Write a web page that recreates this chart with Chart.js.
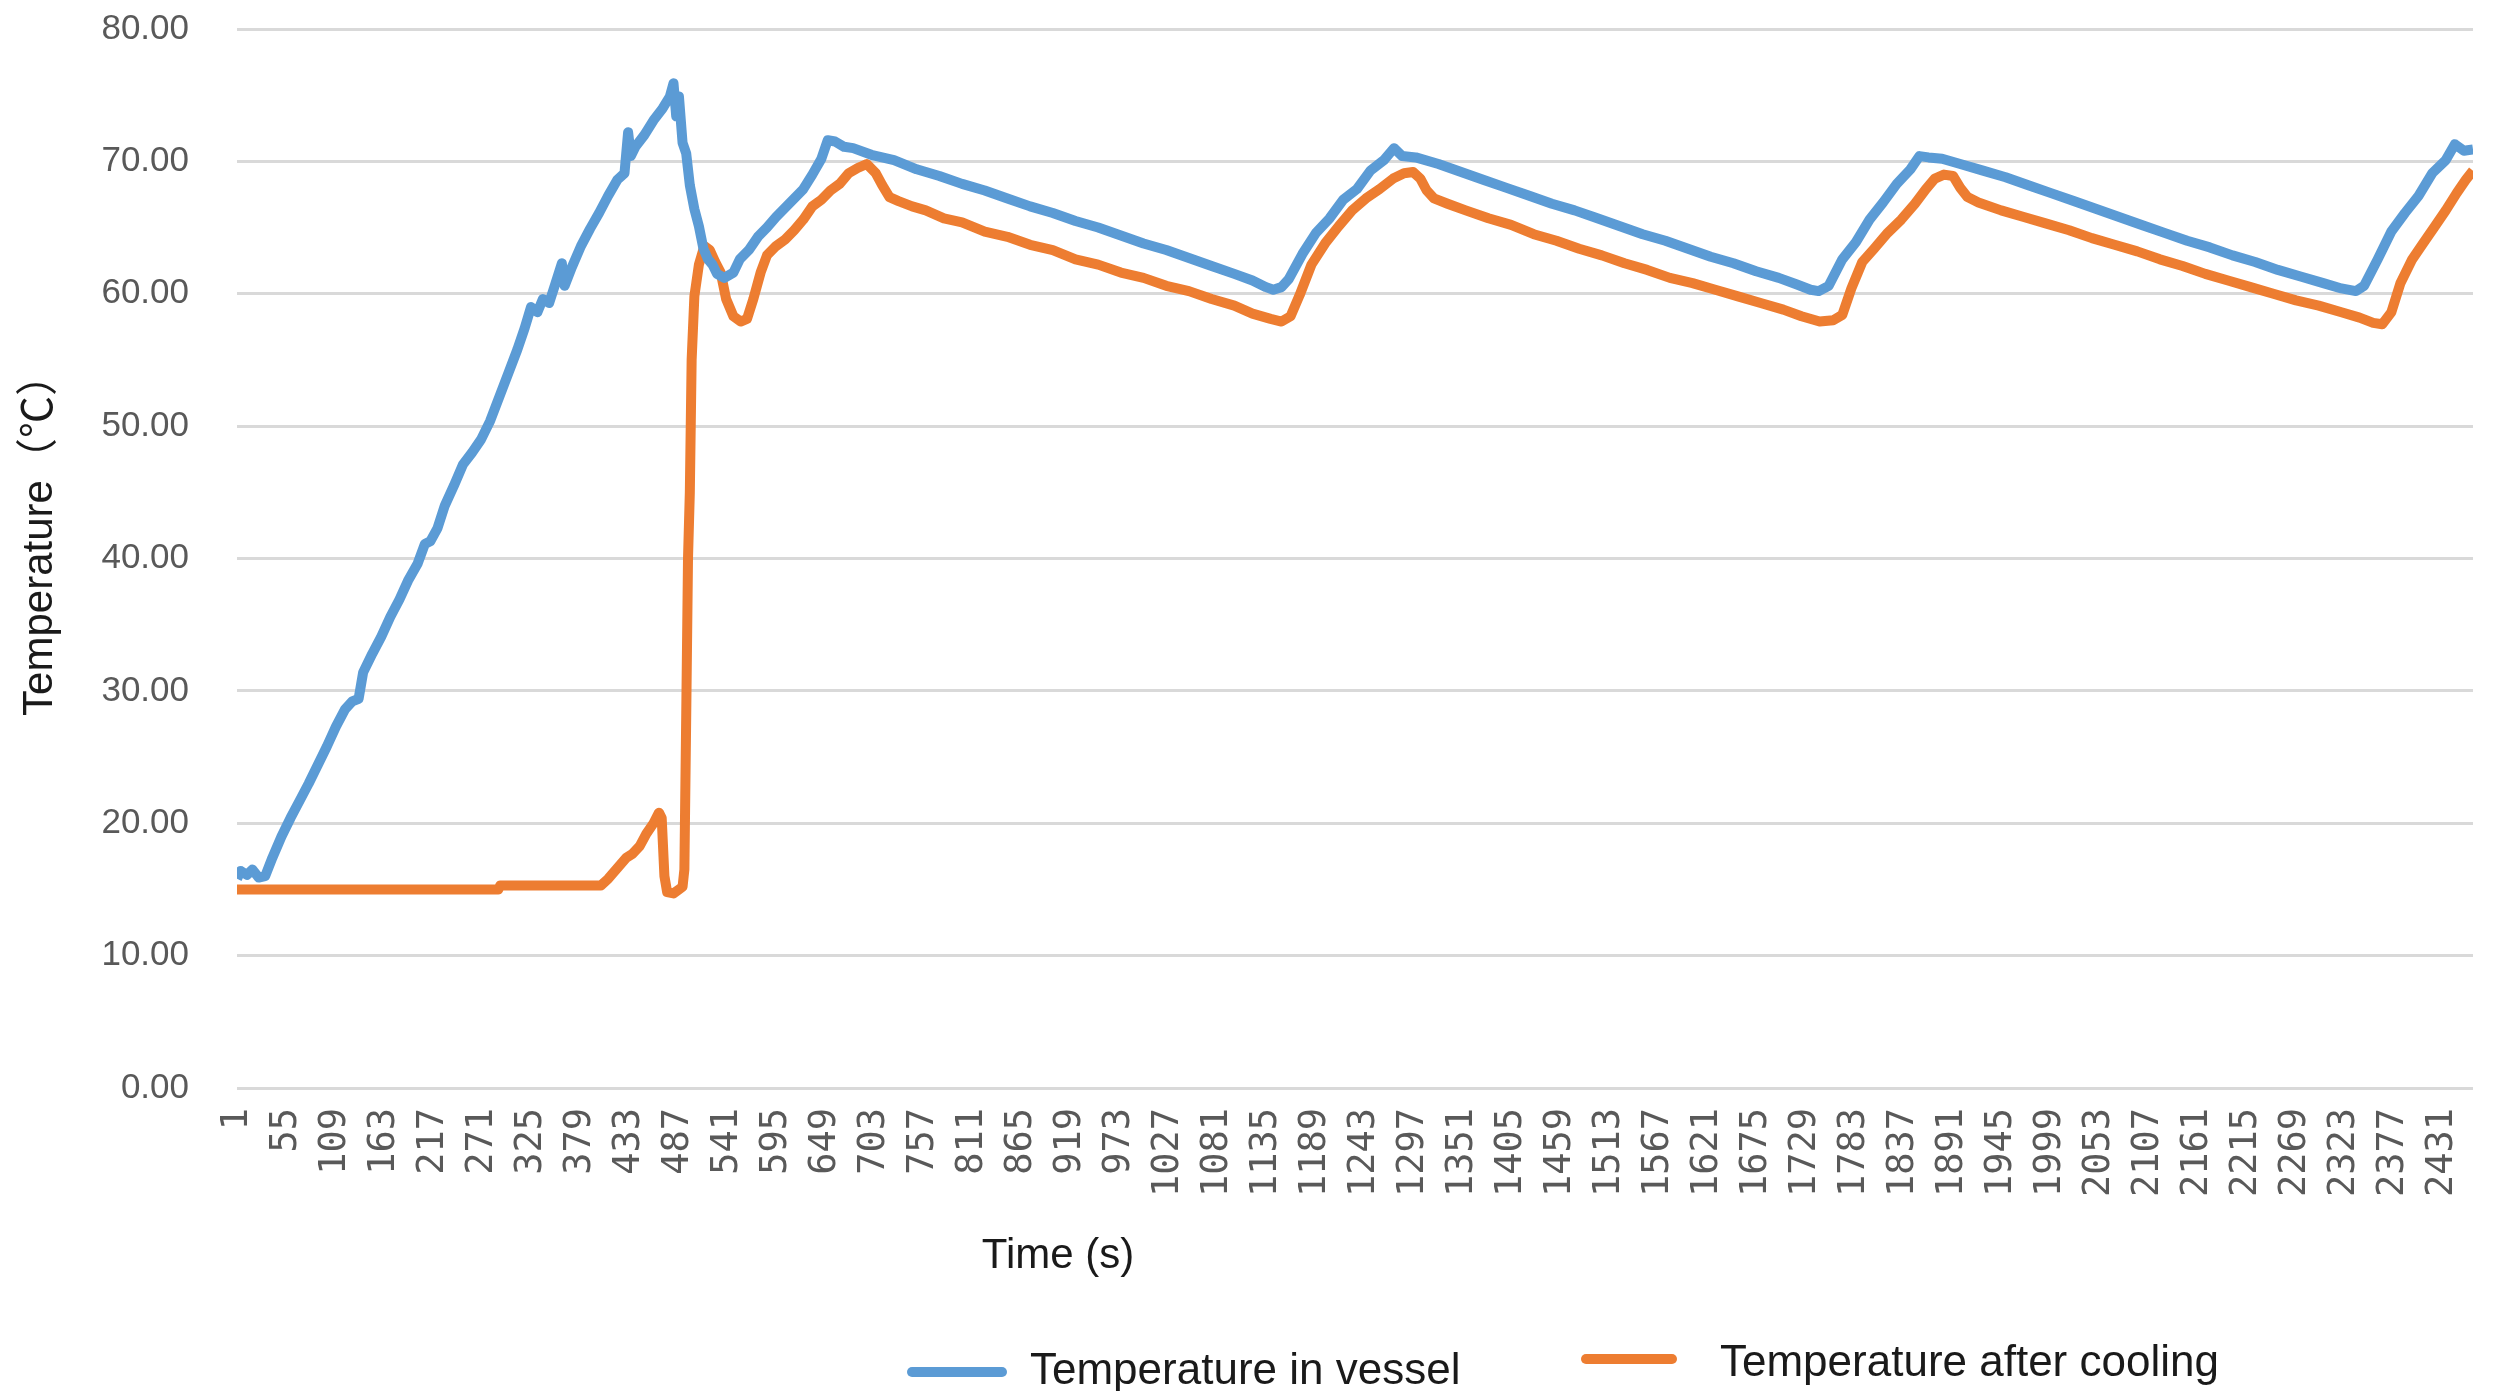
<!DOCTYPE html>
<html>
<head>
<meta charset="utf-8">
<script src="https://cdn.jsdelivr.net/npm/chart.js@4.4.1/dist/chart.umd.min.js"></script>
<style>
  html, body { margin: 0; padding: 0; background: #fff; }
</style>
</head>
<body>
<canvas id="chart" width="2501" height="1391"></canvas>
<script>
// time index (s) and temperature (°C)
const vesselTime = [
  1, 5, 12, 18, 25, 32, 40, 50, 60, 70,
  80, 90, 100, 110, 120, 128, 135, 140, 150, 160,
  170, 180, 190, 200, 208, 214, 222, 230, 240, 250,
  260, 270, 280, 290, 300, 310, 318, 325, 332, 338,
  345, 352, 359, 362, 370, 380, 390, 400, 410, 420,
  428, 432, 435, 440, 450, 460, 470, 478, 482, 485,
  488, 492, 496, 500, 505, 510, 515, 520, 525, 530,
  538, 548, 555, 565, 575, 585, 595, 605, 615, 625,
  635, 645, 652, 660, 670, 680, 700, 725, 750, 775,
  800, 825, 850, 875, 900, 925, 950, 975, 1000, 1025,
  1050, 1075, 1100, 1120, 1135, 1143, 1152, 1160, 1175, 1190,
  1205, 1220, 1235, 1250, 1265, 1276, 1285, 1300, 1325, 1350,
  1375, 1400, 1425, 1450, 1475, 1500, 1525, 1550, 1575, 1600,
  1625, 1650, 1675, 1700, 1720, 1735, 1744, 1755, 1770, 1785,
  1800, 1815, 1830, 1845, 1855, 1865, 1880, 1900, 1925, 1950,
  1975, 2000, 2025, 2050, 2075, 2100, 2125, 2150, 2175, 2200,
  2225, 2250, 2275, 2300, 2320, 2336, 2345, 2360, 2375, 2390,
  2405, 2420, 2435, 2445, 2455, 2465
];
const vesselTemp = [
  15.8, 16.4, 16.1, 16.5, 15.9, 16.0, 17.4, 19.0, 20.4, 21.7,
  23.0, 24.4, 25.8, 27.3, 28.6, 29.2, 29.4, 31.4, 32.8, 34.1,
  35.6, 36.9, 38.4, 39.6, 41.1, 41.3, 42.3, 44.0, 45.5, 47.1,
  48.0, 49.0, 50.4, 52.2, 54.0, 55.8, 57.4, 59.0, 58.6, 59.6,
  59.3, 60.8, 62.3, 60.6, 62.0, 63.6, 64.9, 66.1, 67.4, 68.6,
  69.1, 72.2, 70.4, 71.1, 72.0, 73.1, 74.0, 74.9, 75.9, 73.4,
  74.9, 71.4, 70.6, 68.2, 66.4, 65.1, 63.4, 62.6, 62.2, 61.5,
  61.2, 61.6, 62.6, 63.3, 64.3, 65.0, 65.8, 66.5, 67.2, 67.9,
  69.0, 70.2, 71.6, 71.5, 71.1, 71.0, 70.5, 70.1, 69.4, 68.9,
  68.3, 67.8, 67.2, 66.6, 66.1, 65.5, 65.0, 64.4, 63.8, 63.3,
  62.7, 62.1, 61.5, 61.0, 60.5, 60.3, 60.5, 61.1, 63.0, 64.6,
  65.7, 67.1, 67.9, 69.3, 70.1, 71.0, 70.4, 70.3, 69.8, 69.2,
  68.6, 68.0, 67.4, 66.8, 66.3, 65.7, 65.1, 64.5, 64.0, 63.4,
  62.8, 62.3, 61.7, 61.2, 60.7, 60.3, 60.2, 60.6, 62.6, 63.9,
  65.6, 66.9, 68.3, 69.4, 70.4, 70.3, 70.2, 69.8, 69.3, 68.8,
  68.2, 67.6, 67.0, 66.4, 65.8, 65.2, 64.6, 64.0, 63.5, 62.9,
  62.4, 61.8, 61.3, 60.8, 60.4, 60.2, 60.6, 62.6, 64.7, 66.1,
  67.4, 69.1, 70.1, 71.3, 70.8, 70.9
];

const coolTime = [
  1, 100, 200, 289, 291, 350, 402, 410, 420, 430,
  437, 445, 452, 460, 466, 469, 472, 475, 482, 488,
  492, 494, 496, 498, 500, 502, 505, 510, 516, 522,
  528, 534, 540, 548, 556, 563, 570, 578, 585, 595,
  605, 615, 625, 635, 645, 655, 665, 675, 685, 695,
  705, 712, 720, 730, 745, 760, 780, 800, 825, 850,
  875, 900, 925, 950, 975, 1000, 1025, 1050, 1075, 1100,
  1120, 1140, 1152, 1162, 1172, 1185, 1200, 1215, 1230, 1245,
  1260, 1275, 1287, 1297, 1305, 1312, 1320, 1335, 1355, 1380,
  1405, 1430, 1455, 1480, 1505, 1530, 1555, 1580, 1605, 1630,
  1655, 1680, 1705, 1725, 1745, 1760, 1770, 1780, 1792, 1805,
  1820, 1835, 1850, 1862, 1872, 1882, 1892, 1900, 1908, 1920,
  1945, 1970, 1995, 2020, 2045, 2070, 2095, 2120, 2145, 2170,
  2195, 2220, 2245, 2270, 2295, 2320, 2340, 2355, 2365, 2375,
  2385, 2398, 2410, 2422, 2435, 2447, 2457, 2465
];
const coolTemp = [
  15.0, 15.0, 15.0, 15.0, 15.3, 15.3, 15.3, 15.8, 16.6, 17.4,
  17.7, 18.3, 19.2, 20.0, 20.8, 20.4, 16.0, 14.8, 14.7, 15.0,
  15.2, 16.5, 28.0, 40.0, 45.0, 55.0, 59.8, 62.2, 63.6, 63.3,
  62.4, 61.6, 59.6, 58.3, 57.9, 58.1, 59.6, 61.6, 62.9, 63.6,
  64.1, 64.8, 65.6, 66.6, 67.1, 67.8, 68.3, 69.1, 69.5, 69.8,
  69.1, 68.2, 67.3, 67.0, 66.6, 66.3, 65.7, 65.4, 64.7, 64.3,
  63.7, 63.3, 62.6, 62.2, 61.6, 61.2, 60.6, 60.2, 59.6, 59.1,
  58.5, 58.1, 57.9, 58.3, 59.9, 62.2, 63.8, 65.1, 66.3, 67.2,
  67.9, 68.7, 69.1, 69.2, 68.7, 67.8, 67.2, 66.8, 66.3, 65.7,
  65.2, 64.5, 64.0, 63.4, 62.9, 62.3, 61.8, 61.2, 60.8, 60.3,
  59.8, 59.3, 58.8, 58.3, 57.9, 58.0, 58.4, 60.4, 62.4, 63.4,
  64.6, 65.6, 66.8, 67.9, 68.7, 69.0, 68.9, 68.0, 67.3, 66.9,
  66.3, 65.8, 65.3, 64.8, 64.2, 63.7, 63.2, 62.6, 62.1, 61.5,
  61.0, 60.5, 60.0, 59.5, 59.1, 58.6, 58.2, 57.8, 57.7, 58.6,
  60.8, 62.6, 63.8, 65.0, 66.3, 67.6, 68.6, 69.3
];

// category labels shown on the time axis
const timeTicks = [
  1, 55, 109, 163, 217, 271, 325, 379, 433, 487,
  541, 595, 649, 703, 757, 811, 865, 919, 973, 1027,
  1081, 1135, 1189, 1243, 1297, 1351, 1405, 1459, 1513, 1567,
  1621, 1675, 1729, 1783, 1837, 1891, 1945, 1999, 2053, 2107,
  2161, 2215, 2269, 2323, 2377, 2431
];
const tempTicks = [0, 10, 20, 30, 40, 50, 60, 70, 80];

const seriesNames = ['Temperature in vessel', 'Temperature after cooling'];
const BLUE = '#5b9bd5';
const ORANGE = '#ed7d31';

const pts = (xs, ys) => xs.map((x, i) => ({ x: x, y: ys[i] }));

// axis titles + legend, placed like the original
const overlay = {
  id: 'overlay',
  afterDraw(chart) {
    const ctx = chart.ctx;
    ctx.save();
    ctx.fillStyle = '#1a1a1a';

    ctx.font = '42px "Liberation Sans", Arial, sans-serif';
    ctx.textAlign = 'center';
    ctx.textBaseline = 'alphabetic';
    ctx.fillText('Time (s)', 1058, 1268);

    ctx.save();
    ctx.translate(40, 535);
    ctx.rotate(-Math.PI / 2);
    ctx.font = '42px "Liberation Sans", "Noto Sans CJK SC", sans-serif';
    ctx.textBaseline = 'middle';
    ctx.fillText('Temperature（℃）', 0, 0);
    ctx.restore();

    const items = [
      { x0: 912, x1: 1002, ly: 1372, tx: 1030, ty: 1384 },
      { x0: 1586, x1: 1672, ly: 1359, tx: 1720, ty: 1376 }
    ];
    ctx.font = '44px "Liberation Sans", Arial, sans-serif';
    ctx.textAlign = 'left';
    chart.data.datasets.forEach((ds, i) => {
      const it = items[i];
      ctx.strokeStyle = ds.borderColor;
      ctx.lineWidth = 10;
      ctx.lineCap = 'round';
      ctx.beginPath();
      ctx.moveTo(it.x0, it.ly);
      ctx.lineTo(it.x1, it.ly);
      ctx.stroke();
      ctx.fillStyle = '#1a1a1a';
      ctx.fillText(ds.label, it.tx, it.ty);
    });
    ctx.restore();
  }
};

new Chart(document.getElementById('chart').getContext('2d'), {
  type: 'line',
  data: {
    datasets: [
      {
        label: seriesNames[0],
        data: pts(vesselTime, vesselTemp),
        borderColor: BLUE,
        backgroundColor: BLUE,
        borderWidth: 10,
        pointRadius: 0,
        tension: 0,
        borderJoinStyle: 'round'
      },
      {
        label: seriesNames[1],
        data: pts(coolTime, coolTemp),
        borderColor: ORANGE,
        backgroundColor: ORANGE,
        borderWidth: 10,
        pointRadius: 0,
        tension: 0,
        borderJoinStyle: 'round'
      }
    ]
  },
  options: {
    responsive: false,
    animation: false,
    devicePixelRatio: 1,
    layout: { padding: { left: 0, right: 28, top: 29, bottom: 0 } },
    plugins: {
      legend: { display: false },
      tooltip: { enabled: false }
    },
    scales: {
      x: {
        type: 'linear',
        min: 1,
        max: 2465,
        afterBuildTicks: (scale) => {
          scale.ticks = timeTicks.map(v => ({ value: v }));
        },
        afterFit: (scale) => {
          scale.height = 303;
          scale.paddingLeft = 0;
          scale.paddingRight = 0;
        },
        grid: { display: false, drawTicks: false },
        border: { display: false },
        ticks: {
          autoSkip: false,
          minRotation: 90,
          maxRotation: 90,
          padding: 20,
          color: '#595959',
          font: { family: '"DejaVu Sans Mono", "Liberation Mono", monospace', size: 37 },
          callback: (v) => String(v)
        }
      },
      y: {
        min: 0,
        max: 80,
        afterBuildTicks: (scale) => {
          scale.ticks = tempTicks.map(v => ({ value: v }));
        },
        afterFit: (scale) => {
          scale.width = 237;
          scale.paddingTop = 0;
          scale.paddingBottom = 0;
        },
        grid: { color: '#d9d9d9', lineWidth: 3, drawTicks: false },
        border: { display: false },
        ticks: {
          padding: 48,
          color: '#595959',
          font: { family: '"Liberation Sans", Arial, sans-serif', size: 35 },
          callback: (v) => Number(v).toFixed(2)
        }
      }
    }
  },
  plugins: [overlay]
});
</script>
</body>
</html>
